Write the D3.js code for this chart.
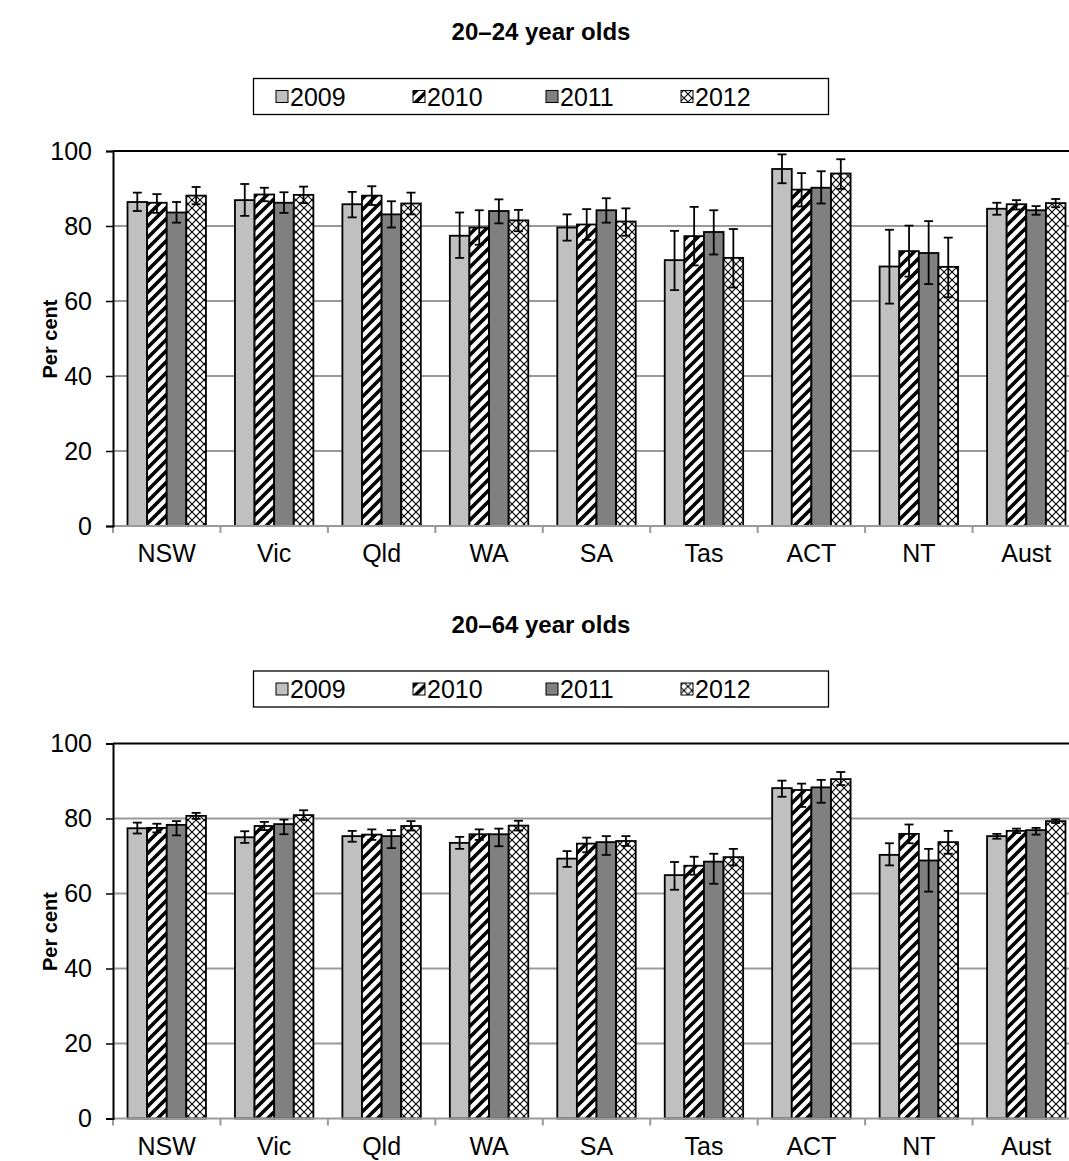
<!DOCTYPE html>
<html>
<head>
<meta charset="utf-8">
<script src="https://cdn.jsdelivr.net/npm/d3@7"></script>
<style>
body { margin: 0; background: #fff; }
text { font-family: "Liberation Sans", Arial, sans-serif; fill: #000; }
</style>
</head>
<body>
<svg id="chart" width="1069" height="1161"></svg>
<script>
var states = ["NSW", "Vic", "Qld", "WA", "SA", "Tas", "ACT", "NT", "Aust"];
var years = ["2009", "2010", "2011", "2012"];
var yTicks = [0, 20, 40, 60, 80, 100];

// 20-24 year olds: bar values and confidence interval [low, high]
var young2009 = [86.4, 86.9, 85.8, 77.4, 79.6, 70.9, 95.2, 69.2, 84.6];
var young2010 = [86.2, 88.4, 88.1, 79.6, 80.4, 77.3, 89.7, 73.3, 85.8];
var young2011 = [83.6, 86.2, 83.1, 84.0, 84.2, 78.4, 90.2, 72.8, 84.2];
var young2012 = [88.1, 88.3, 86.0, 81.5, 81.2, 71.5, 94.0, 69.1, 86.1];
var youngCi2009 = [[84.0,88.9],[82.7,91.2],[82.3,89.1],[71.5,83.6],[76.1,83.1],[62.9,78.7],[91.4,99.1],[59.3,79.0],[83.0,86.2]];
var youngCi2010 = [[83.5,88.5],[86.6,90.2],[85.6,90.6],[75.0,84.2],[76.3,84.5],[69.5,85.1],[85.2,94.1],[66.5,80.1],[84.4,86.9]];
var youngCi2011 = [[80.9,86.4],[83.5,89.0],[79.6,86.6],[80.7,87.1],[80.9,87.4],[72.4,84.2],[86.0,94.6],[64.5,81.3],[83.0,85.3]];
var youngCi2012 = [[85.8,90.4],[86.1,90.5],[83.1,88.9],[78.6,84.3],[77.4,84.7],[63.6,79.2],[89.9,97.8],[61.0,76.9],[85.0,87.2]];

// 20-64 year olds
var all2009 = [77.4, 75.0, 75.3, 73.5, 69.3, 64.9, 88.1, 70.3, 75.3];
var all2010 = [77.5, 78.0, 75.7, 75.8, 73.3, 67.4, 87.6, 75.9, 76.7];
var all2011 = [78.3, 78.5, 75.3, 75.8, 73.7, 68.5, 88.3, 68.8, 76.9];
var all2012 = [80.7, 80.9, 78.0, 78.1, 74.0, 69.7, 90.5, 73.7, 79.3];
var allCi2009 = [[76.0,78.9],[73.5,76.6],[73.8,76.7],[71.9,75.1],[67.1,71.3],[61.0,68.4],[85.8,90.1],[67.5,73.4],[74.6,75.9]];
var allCi2010 = [[76.3,78.6],[76.9,79.1],[74.3,77.1],[74.3,77.1],[71.0,74.9],[65.0,69.8],[83.1,89.3],[73.4,78.4],[76.1,77.3]];
var allCi2011 = [[75.5,79.3],[75.8,79.7],[72.1,76.9],[72.6,77.3],[70.3,75.3],[62.6,70.6],[84.2,90.3],[60.5,71.9],[75.7,77.5]];
var allCi2012 = [[79.9,81.5],[79.6,82.2],[76.8,79.3],[76.8,79.4],[72.7,75.3],[67.5,71.9],[88.9,92.4],[70.6,76.7],[78.8,79.8]];

var fills = ["#c0c0c0", "url(#stripe)", "#808080", "url(#cross)"];

var svg = d3.select("#chart");
var defs = svg.append("defs");

// wide upward diagonal
var stripe = defs.append("pattern")
  .attr("id", "stripe")
  .attr("patternUnits", "userSpaceOnUse")
  .attr("width", 11).attr("height", 11);
stripe.append("rect").attr("width", 11).attr("height", 11).attr("fill", "#fff");
stripe.append("path")
  .attr("d", "M-2,2 L2,-2 M0,11 L11,0 M9,13 L13,9")
  .attr("stroke", "#000").attr("stroke-width", 3.6);

// small diagonal cross hatch
var cross = defs.append("pattern")
  .attr("id", "cross")
  .attr("patternUnits", "userSpaceOnUse")
  .attr("width", 8).attr("height", 8);
cross.append("rect").attr("width", 8).attr("height", 8).attr("fill", "#fff");
cross.append("path")
  .attr("d", "M0,0 L8,8 M8,0 L0,8")
  .attr("stroke", "#000").attr("stroke-width", 1.1);

var left = 113, right = 1080;

function drawChart(top, title, values, cis) {
  var bottom = top + 375;
  var g = svg.append("g");

  var x = d3.scaleBand().domain(states).range([left, right]).padding(0);
  var xi = d3.scaleBand().domain(years).range([0, x.bandwidth()])
    .paddingInner(0).paddingOuter(0.74);
  var y = d3.scaleLinear().domain([0, 100]).range([bottom, top]);

  // title
  g.append("text")
    .attr("x", 541).attr("y", top - 111)
    .attr("text-anchor", "middle")
    .style("font-size", "24px").style("font-weight", "bold")
    .text(title);

  // legend
  var lg = g.append("g").attr("transform", "translate(0," + (top - 73) + ")");
  lg.append("rect")
    .attr("x", 253.5).attr("y", 0.5).attr("width", 575).attr("height", 36)
    .attr("fill", "#fff").attr("stroke", "#000").attr("stroke-width", 1.3);
  var legendX = [276, 413, 546, 681];
  years.forEach(function(yr, i) {
    lg.append("rect")
      .attr("x", legendX[i]).attr("y", 12.5).attr("width", 12).attr("height", 12)
      .attr("fill", fills[i]).attr("stroke", "#000").attr("stroke-width", 1);
    lg.append("text")
      .attr("x", legendX[i] + 14).attr("y", 27.5)
      .style("font-size", "25px")
      .text(yr);
  });

  // gridlines
  g.append("g").selectAll("line")
    .data([20, 40, 60, 80])
    .join("line")
    .attr("x1", left).attr("x2", right)
    .attr("y1", function(d) { return y(d); })
    .attr("y2", function(d) { return y(d); })
    .attr("stroke", "#999").attr("stroke-width", 2);

  // top border
  g.append("line")
    .attr("x1", left).attr("x2", right)
    .attr("y1", y(100)).attr("y2", y(100))
    .attr("stroke", "#000").attr("stroke-width", 2);

  // bars
  years.forEach(function(yr, i) {
    g.append("g").selectAll("rect")
      .data(values[i])
      .join("rect")
      .attr("x", function(d, j) { return x(states[j]) + xi(yr); })
      .attr("y", function(d) { return y(d); })
      .attr("width", xi.bandwidth())
      .attr("height", function(d) { return y(0) - y(d); })
      .attr("fill", fills[i])
      .attr("stroke", "#000").attr("stroke-width", 1.8);
  });

  // error bars
  years.forEach(function(yr, i) {
    var eg = g.append("g").attr("stroke", "#000").attr("stroke-width", 1.8);
    cis[i].forEach(function(ci, j) {
      var cx = x(states[j]) + xi(yr) + xi.bandwidth() / 2;
      eg.append("line").attr("x1", cx).attr("x2", cx)
        .attr("y1", y(ci[0])).attr("y2", y(ci[1]));
      eg.append("line").attr("x1", cx - 4.5).attr("x2", cx + 4.5)
        .attr("y1", y(ci[0])).attr("y2", y(ci[0]));
      eg.append("line").attr("x1", cx - 4.5).attr("x2", cx + 4.5)
        .attr("y1", y(ci[1])).attr("y2", y(ci[1]));
    });
  });

  // x axis (grey, ticks between categories)
  var xaxis = g.append("g");
  xaxis.append("line")
    .attr("x1", left).attr("x2", right)
    .attr("y1", bottom).attr("y2", bottom)
    .attr("stroke", "#999").attr("stroke-width", 2);
  xaxis.selectAll("line.tick")
    .data(states)
    .join("line")
    .attr("class", "tick")
    .attr("x1", function(d) { return x(d); })
    .attr("x2", function(d) { return x(d); })
    .attr("y1", bottom).attr("y2", bottom + 7)
    .attr("stroke", "#999").attr("stroke-width", 2);
  xaxis.selectAll("text")
    .data(states)
    .join("text")
    .attr("x", function(d) { return x(d) + x.bandwidth() / 2; })
    .attr("y", bottom + 36)
    .attr("text-anchor", "middle")
    .style("font-size", "25px")
    .text(function(d) { return d; });

  // y axis
  var yaxis = d3.axisLeft(y).tickValues(yTicks).tickSize(7).tickPadding(14);
  var ya = g.append("g").attr("transform", "translate(" + left + ",0)").call(yaxis);
  ya.select(".domain").attr("stroke", "#000").attr("stroke-width", 2);
  ya.selectAll(".tick line").attr("stroke", "#000").attr("stroke-width", 1.5);
  ya.selectAll(".tick text")
    .style("font-size", "25px")
    .style("font-family", "'Liberation Sans', Arial, sans-serif")
    .attr("fill", "#000");

  g.append("text")
    .attr("transform", "translate(57," + (top + 188) + ") rotate(-90)")
    .attr("text-anchor", "middle")
    .style("font-size", "20px").style("font-weight", "bold")
    .text("Per cent");
}

drawChart(151, "20\u201324 year olds",
  [young2009, young2010, young2011, young2012],
  [youngCi2009, youngCi2010, youngCi2011, youngCi2012]);
drawChart(743.5, "20\u201364 year olds",
  [all2009, all2010, all2011, all2012],
  [allCi2009, allCi2010, allCi2011, allCi2012]);
</script>
</body>
</html>
